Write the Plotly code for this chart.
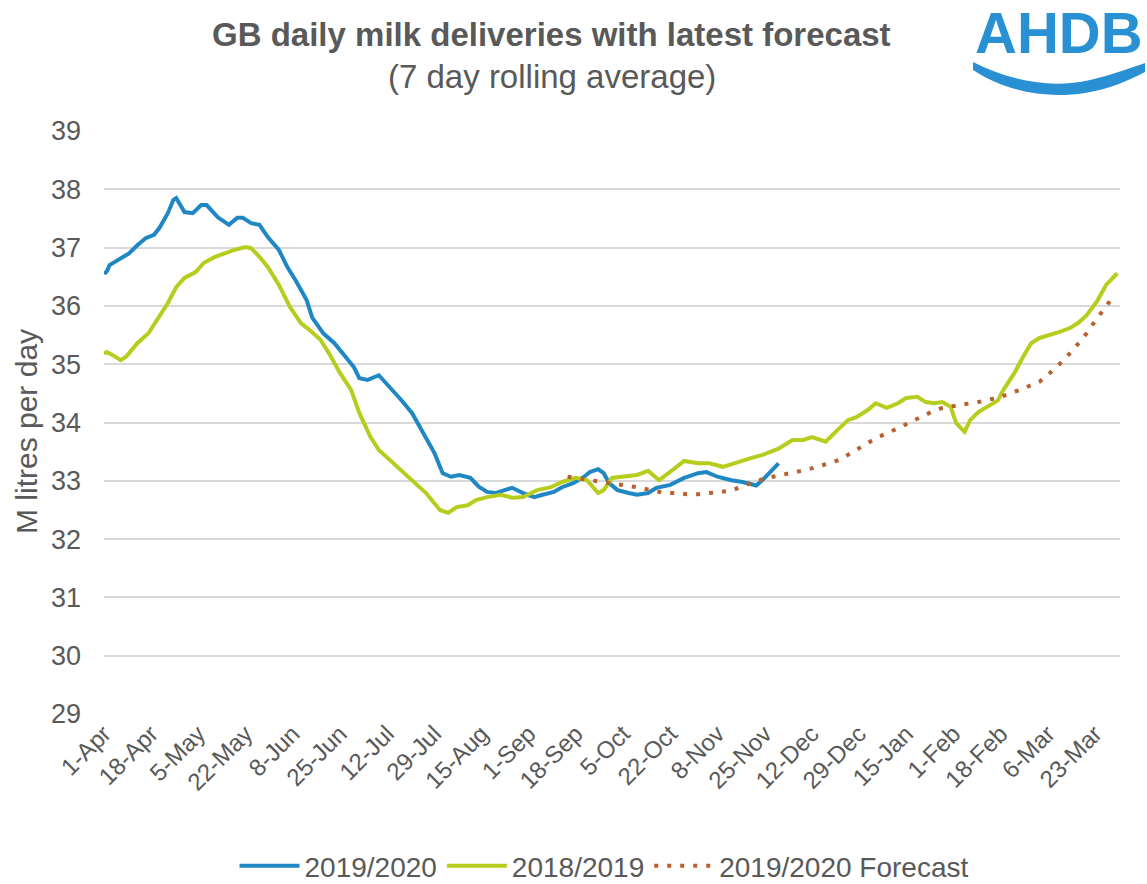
import plotly.graph_objects as go

# ---------------- data (day index from 1-Apr) ----------------
tick_days = [0, 17, 34, 51, 68, 85, 102, 119, 136, 153, 170, 187, 204, 221,
             238, 255, 272, 289, 306, 323, 340, 357]
tick_labels = ["1-Apr", "18-Apr", "5-May", "22-May", "8-Jun", "25-Jun", "12-Jul",
               "29-Jul", "15-Aug", "1-Sep", "18-Sep", "5-Oct", "22-Oct", "8-Nov",
               "25-Nov", "12-Dec", "29-Dec", "15-Jan", "1-Feb", "18-Feb", "6-Mar",
               "23-Mar"]

days_1920 = [0, 1, 2, 5, 9, 12, 15, 18, 20, 23, 25, 26, 29, 32, 35, 37, 41, 45, 48, 50,
             53, 56, 59, 63, 66, 69, 73, 75, 79, 83, 86, 90, 92, 95, 99, 103, 107, 111,
             115, 119, 122, 125, 128, 132, 135, 138, 141, 145, 147, 151, 155, 158, 162,
             165, 169, 173, 175, 178, 180, 182, 185, 189, 192, 196, 199, 204, 209, 214,
             217, 221, 226, 230, 235, 238, 241, 243]
vals_1920 = [36.55, 36.59, 36.70, 36.79, 36.90, 37.04, 37.16, 37.22, 37.34, 37.59,
             37.82, 37.85, 37.61, 37.59, 37.73, 37.73, 37.52, 37.39, 37.51, 37.51,
             37.42, 37.39, 37.18, 36.96, 36.67, 36.44, 36.10, 35.80, 35.53, 35.36,
             35.19, 34.95, 34.76, 34.73, 34.81, 34.61, 34.39, 34.16, 33.82, 33.48,
             33.13, 33.07, 33.10, 33.05, 32.90, 32.81, 32.79, 32.84, 32.88, 32.79,
             32.72, 32.76, 32.81, 32.89, 32.96, 33.07, 33.15, 33.20, 33.13, 32.96,
             32.84, 32.79, 32.76, 32.79, 32.88, 32.93, 33.05, 33.13, 33.15, 33.07,
             33.01, 32.98, 32.92, 33.05, 33.20, 33.30]

days_1819 = [0, 1, 3, 6, 8, 12, 16, 19, 23, 26, 29, 33, 36, 40, 44, 47, 51, 53, 56, 59,
             63, 67, 71, 74, 78, 81, 85, 89, 92, 96, 99, 103, 107, 111, 116, 121, 124,
             127, 131, 134, 138, 143, 147, 151, 156, 161, 165, 170, 174, 178, 180, 183,
             188, 192, 196, 200, 205, 209, 214, 218, 223, 228, 233, 237, 243, 248, 252,
             255, 260, 264, 268, 271, 275, 278, 282, 286, 289, 293, 296, 299, 302, 305,
             307, 310, 312, 315, 318, 322, 324, 328, 331, 334, 337, 341, 344, 348, 351,
             354, 358, 361, 365]
vals_1819 = [35.18, 35.21, 35.16, 35.07, 35.13, 35.36, 35.53, 35.76, 36.05, 36.32,
             36.48, 36.58, 36.74, 36.84, 36.91, 36.96, 37.01, 36.99, 36.84, 36.67,
             36.36, 35.98, 35.70, 35.59, 35.42, 35.19, 34.85, 34.56, 34.16, 33.75,
             33.53, 33.36, 33.19, 33.01, 32.79, 32.50, 32.45, 32.55, 32.58, 32.67,
             32.72, 32.76, 32.71, 32.72, 32.84, 32.89, 32.98, 33.05, 33.01, 32.79,
             32.84, 33.05, 33.07, 33.10, 33.17, 33.01, 33.19, 33.34, 33.30, 33.30,
             33.24, 33.32, 33.39, 33.44, 33.55, 33.70, 33.70, 33.75, 33.67, 33.86,
             34.04, 34.09, 34.21, 34.33, 34.25, 34.33, 34.42, 34.44, 34.35, 34.33,
             34.35, 34.27, 33.99, 33.84, 34.04, 34.18, 34.27, 34.38, 34.56, 34.85,
             35.12, 35.36, 35.45, 35.50, 35.55, 35.62, 35.71, 35.84, 36.10, 36.36,
             36.56]

days_fc = [167, 173, 178, 183, 188, 192, 197, 202, 207, 210, 214, 218, 222, 226, 229,
           234, 239, 244, 248, 254, 261, 265, 271, 278, 286, 292, 298, 302, 308, 313,
           316, 323, 330, 337, 343, 349, 354, 358, 361, 363]
vals_fc = [33.07, 33.03, 33.00, 32.95, 32.93, 32.89, 32.84, 32.79, 32.79, 32.77,
           32.77, 32.79, 32.81, 32.83, 32.89, 32.98, 33.05, 33.10, 33.13, 33.20,
           33.30, 33.36, 33.53, 33.73, 33.90, 34.04, 34.18, 34.25, 34.30, 34.35,
           34.36, 34.44, 34.56, 34.70, 34.94, 35.24, 35.53, 35.81, 35.98, 36.14]

# ---------------- layout geometry ----------------
W, H = 1147, 884
L, R, T, B = 104, 27, 131, 170
PW, PH = W - L - R, H - T - B


def px(x):
    return (x - L) / PW


def py(y):
    return (H - B - y) / PH


FONT = "Liberation Sans, Arial, sans-serif"
GREY = "#595959"
BLUE = "#1F87C4"
GREEN = "#B7CD1E"
ORANGE = "#B8602E"
LOGO = "#2A90D4"

fig = go.Figure()
fig.add_trace(go.Scatter(x=days_1920, y=vals_1920, mode="lines", name="2019/2020",
                         line=dict(color=BLUE, width=4)))
fig.add_trace(go.Scatter(x=days_1819, y=vals_1819, mode="lines", name="2018/2019",
                         line=dict(color=GREEN, width=4)))
fig.add_trace(go.Scatter(x=days_fc, y=vals_fc, mode="lines", name="2019/2020 Forecast",
                         line=dict(color=ORANGE, width=4, dash="4px,9px")))

fig.update_layout(
    width=W, height=H,
    margin=dict(l=L, r=R, t=T, b=B, autoexpand=False),
    paper_bgcolor="white", plot_bgcolor="white",
    font=dict(family=FONT, color=GREY),
    showlegend=True,
    legend=dict(orientation="h", x=px(604), xanchor="center", y=py(866), yanchor="middle",
                font=dict(size=28, family=FONT, color=GREY), itemwidth=60,
                traceorder="normal"),
    xaxis=dict(range=[0, 366], tickmode="array", tickvals=tick_days, ticktext=tick_labels,
               tickangle=-45, tickfont=dict(size=24, family=FONT, color=GREY),
               showgrid=False, zeroline=False, showline=False, ticks=""),
    yaxis=dict(range=[29, 39], dtick=1, tick0=29,
               tickfont=dict(size=27, family=FONT, color=GREY),
               showgrid=True, gridcolor="#D9D9D9", gridwidth=1.5, zeroline=False,
               showline=False, ticks="", ticklabelstandoff=22),
)

annotations = [
    dict(text="<b>GB daily milk deliveries with latest forecast</b>", x=px(551), y=py(34),
         font=dict(size=33, family=FONT, color=GREY)),
    dict(text="(7 day rolling average)", x=px(552), y=py(76),
         font=dict(size=33, family=FONT, color=GREY)),
    dict(text="M litres per day", x=px(26), y=py(432), textangle=-90,
         font=dict(size=30, family=FONT, color=GREY)),
    dict(text="<b>AHDB</b>", x=px(1059), y=py(33),
         font=dict(size=58, family=FONT, color=LOGO)),
]
for a in annotations:
    a.update(xref="paper", yref="paper", showarrow=False, xanchor="center", yanchor="middle")
fig.update_layout(annotations=annotations)

# logo wave
wave_pts = [
    ("M", (973, 62)), ("C", (1005, 78), (1045, 90), (1090, 80)),
    ("C", (1115, 74), (1133, 67), (1145, 63)), ("L", (1145, 72)),
    ("C", (1130, 80), (1110, 89), (1085, 93)), ("C", (1040, 100), (1000, 88), (973, 70)),
]
parts = []
for seg in wave_pts:
    cmd = seg[0]
    coords = " ".join(f"{px(x):.5f},{py(y):.5f}" for x, y in seg[1:])
    parts.append(f"{cmd} {coords}")
path = " ".join(parts) + " Z"
fig.add_shape(type="path", path=path, xref="paper", yref="paper",
              fillcolor=LOGO, line=dict(width=0))

fig.write_html("out.html")
